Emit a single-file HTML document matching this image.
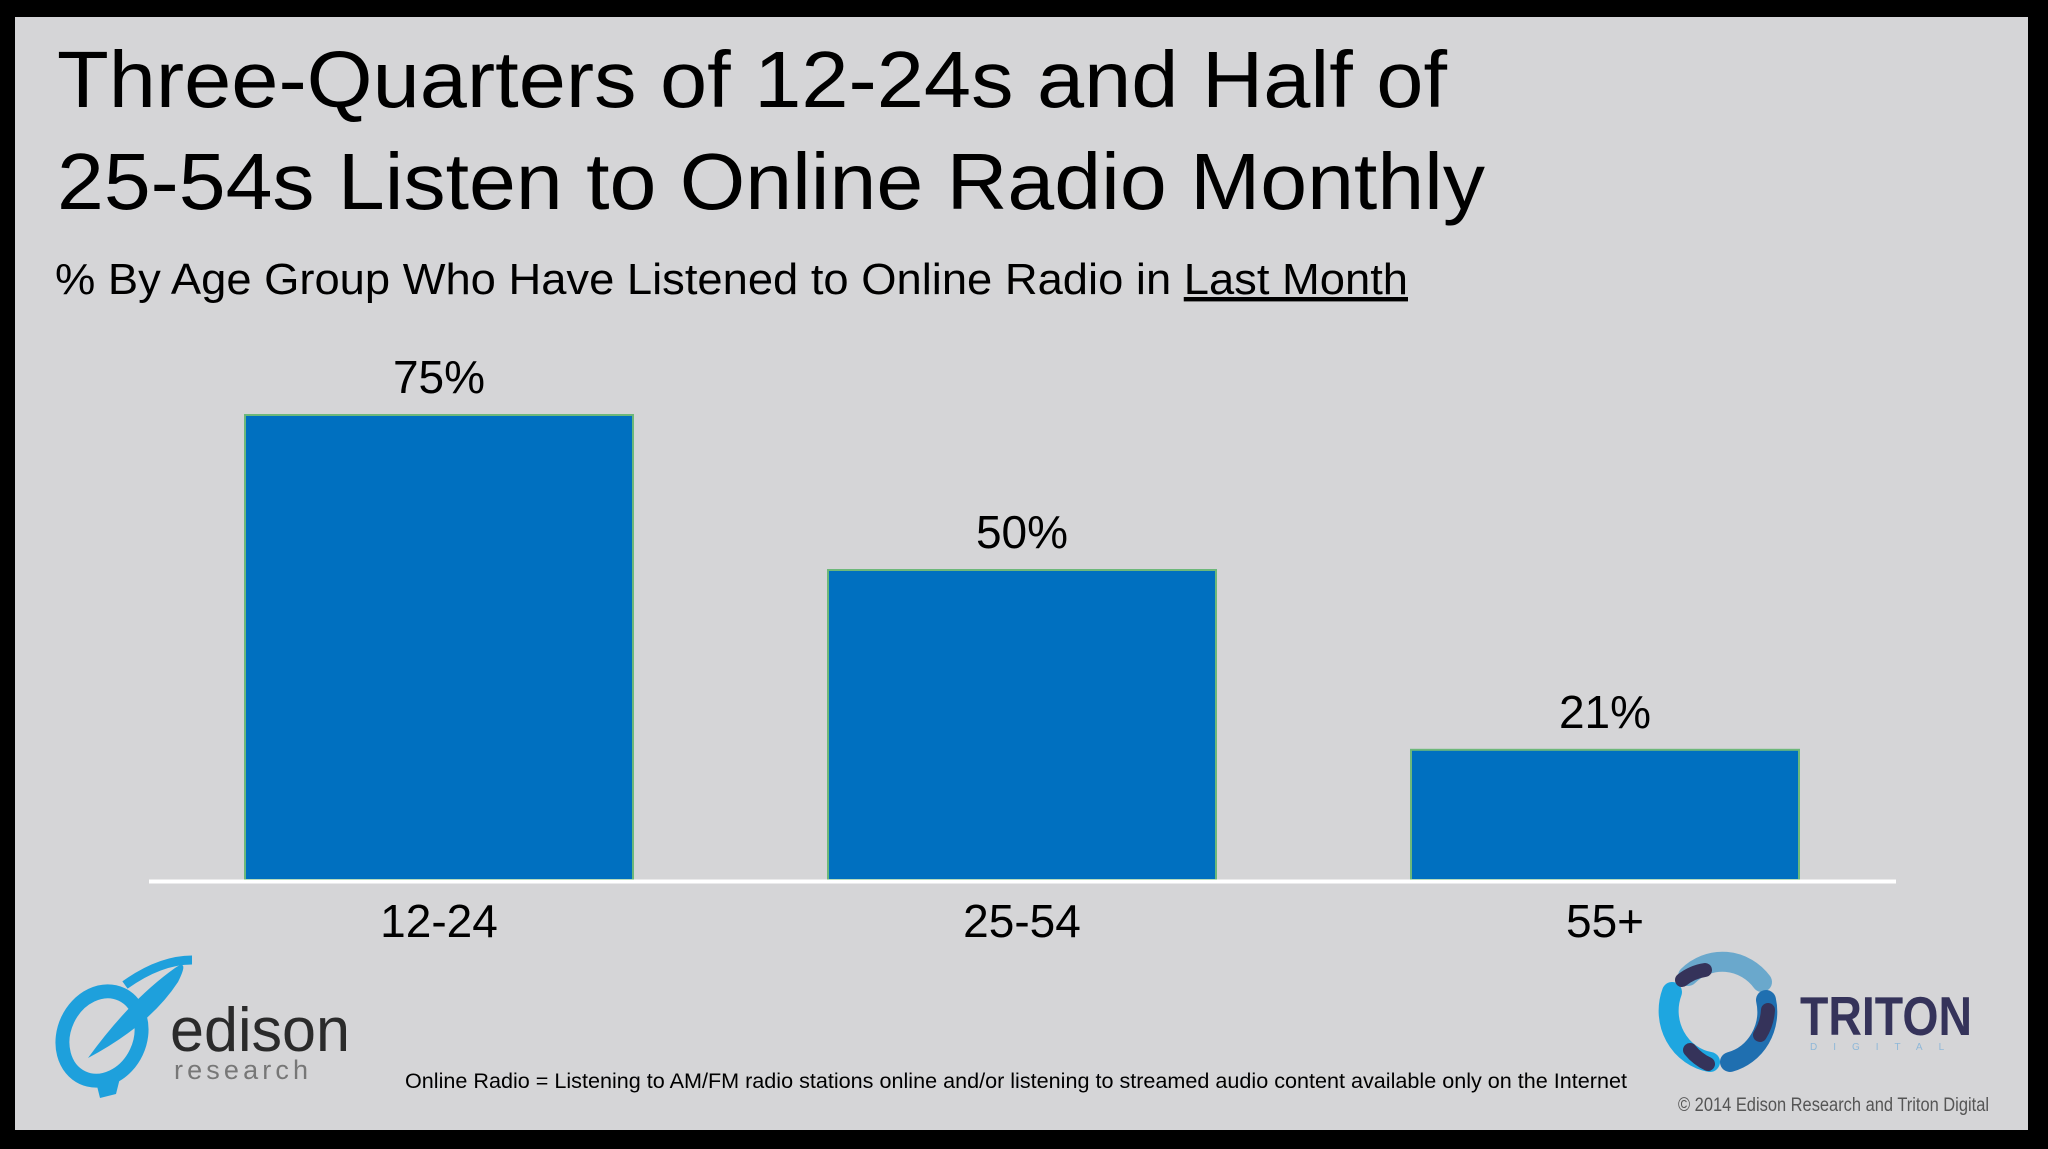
<!DOCTYPE html>
<html><head><meta charset="utf-8"><style>
html,body{margin:0;padding:0;background:#000;}
svg{display:block;}
text{font-family:"Liberation Sans",sans-serif;}
</style></head><body>
<svg id="chart" width="2048" height="1149" viewBox="0 0 2048 1149">
<rect x="0" y="0" width="2048" height="1149" fill="#000"/>
<rect x="15" y="17" width="2013" height="1113" fill="#d5d5d7"/>
<text x="57" y="107" font-size="80" fill="#000" textLength="1390" lengthAdjust="spacingAndGlyphs">Three-Quarters of  12-24s and Half of</text>
<text x="57" y="209" font-size="80" fill="#000" textLength="1428" lengthAdjust="spacingAndGlyphs">25-54s Listen to Online Radio Monthly</text>
<text x="55" y="294" font-size="44" fill="#000" textLength="1353" lengthAdjust="spacingAndGlyphs">% By Age Group Who Have Listened to Online Radio in <tspan text-decoration="underline">Last Month</tspan></text>
<line x1="1185" y1="299" x2="1408" y2="299" stroke="#000" stroke-width="2.5"/>
<g id="bars"></g>
<line x1="149" y1="881.5" x2="1896" y2="881.5" stroke="#fff" stroke-width="4"/>
<g>
<ellipse cx="102" cy="1036" rx="38" ry="46" fill="none" stroke="#1ea0dc" stroke-width="14" transform="rotate(25 102 1036)"/>
<path d="M88 1058 Q130 1000 175 968 Q190 958 178 982 Q150 1025 88 1058Z" fill="#1ea0dc"/>
<path d="M125 985 Q160 960 192 960" fill="none" stroke="#1ea0dc" stroke-width="9"/>
<path d="M95 1078 l26 -4 l-5 20 l-16 4z" fill="#1ea0dc"/>
<text x="170" y="1051" font-size="62" fill="#2b2b2b" textLength="180" lengthAdjust="spacingAndGlyphs">edison</text>
<text x="174" y="1079" font-size="27" fill="#777" textLength="134" lengthAdjust="spacing">research</text>
</g>
<text x="405" y="1088" font-size="21" fill="#000" textLength="1222" lengthAdjust="spacingAndGlyphs">Online Radio = Listening to AM/FM radio stations online and/or listening to streamed audio content available only on the Internet</text>
<g fill="none" stroke-linecap="round" stroke-width="20">
<path d="M1688 976 A50 52 0 0 1 1762 982" stroke="#6aa8cc"/>
<path d="M1766 1000 A50 52 0 0 1 1730 1062" stroke="#1f6fb0"/>
<path d="M1710 1062 A50 52 0 0 1 1672 992" stroke="#1ea6e0"/>
<path d="M1682 980 A50 52 0 0 1 1705 970" stroke="#35335a" stroke-width="14"/>
<path d="M1768 1010 A50 52 0 0 1 1760 1035" stroke="#35335a" stroke-width="14"/>
<path d="M1690 1050 A50 52 0 0 0 1708 1064" stroke="#35335a" stroke-width="14"/>
<text x="1800" y="1035" font-size="55" font-weight="bold" fill="#35335a" stroke="none" textLength="172" lengthAdjust="spacingAndGlyphs">TRITON</text>
<text x="1810" y="1050" font-size="10" fill="#8fb8d8" stroke="none" letter-spacing="16">DIGITAL</text>
</g>
<text x="1678" y="1111" font-size="19" fill="#555" textLength="311" lengthAdjust="spacingAndGlyphs">© 2014 Edison Research and Triton Digital</text>
</svg>
<script>
const categories = ["12-24", "25-54", "55+"];
const values = [75, 50, 21];
const valueLabels = ["75%", "50%", "21%"];
const baseY = 880, pxPerPct = 6.2, firstX = 245, step = 583, barW = 388;
function yScale(v){ return baseY - v * pxPerPct; }
function xScale(i){ return firstX + i * step; }
const NS = "http://www.w3.org/2000/svg";
const g = document.getElementById("bars");
categories.forEach((c, i) => {
  const x = xScale(i), y = yScale(values[i]);
  const r = document.createElementNS(NS, "rect");
  r.setAttribute("x", x); r.setAttribute("y", y);
  r.setAttribute("width", barW); r.setAttribute("height", baseY - y);
  r.setAttribute("fill", "#0070c0"); r.setAttribute("stroke", "#6db87a"); r.setAttribute("stroke-width", "2");
  
  
  g.appendChild(r);
  const t = document.createElementNS(NS, "text");
  t.setAttribute("x", x + barW / 2); t.setAttribute("y", y - 22);
  t.setAttribute("font-size", "46"); t.setAttribute("text-anchor", "middle");
  t.textContent = valueLabels[i];
  
  
  g.appendChild(t);
  const l = document.createElementNS(NS, "text");
  l.setAttribute("x", x + barW / 2); l.setAttribute("y", 937);
  l.setAttribute("font-size", "46"); l.setAttribute("text-anchor", "middle");
  l.textContent = c;
  
  
  g.appendChild(l);
});
</script>
</body></html>
